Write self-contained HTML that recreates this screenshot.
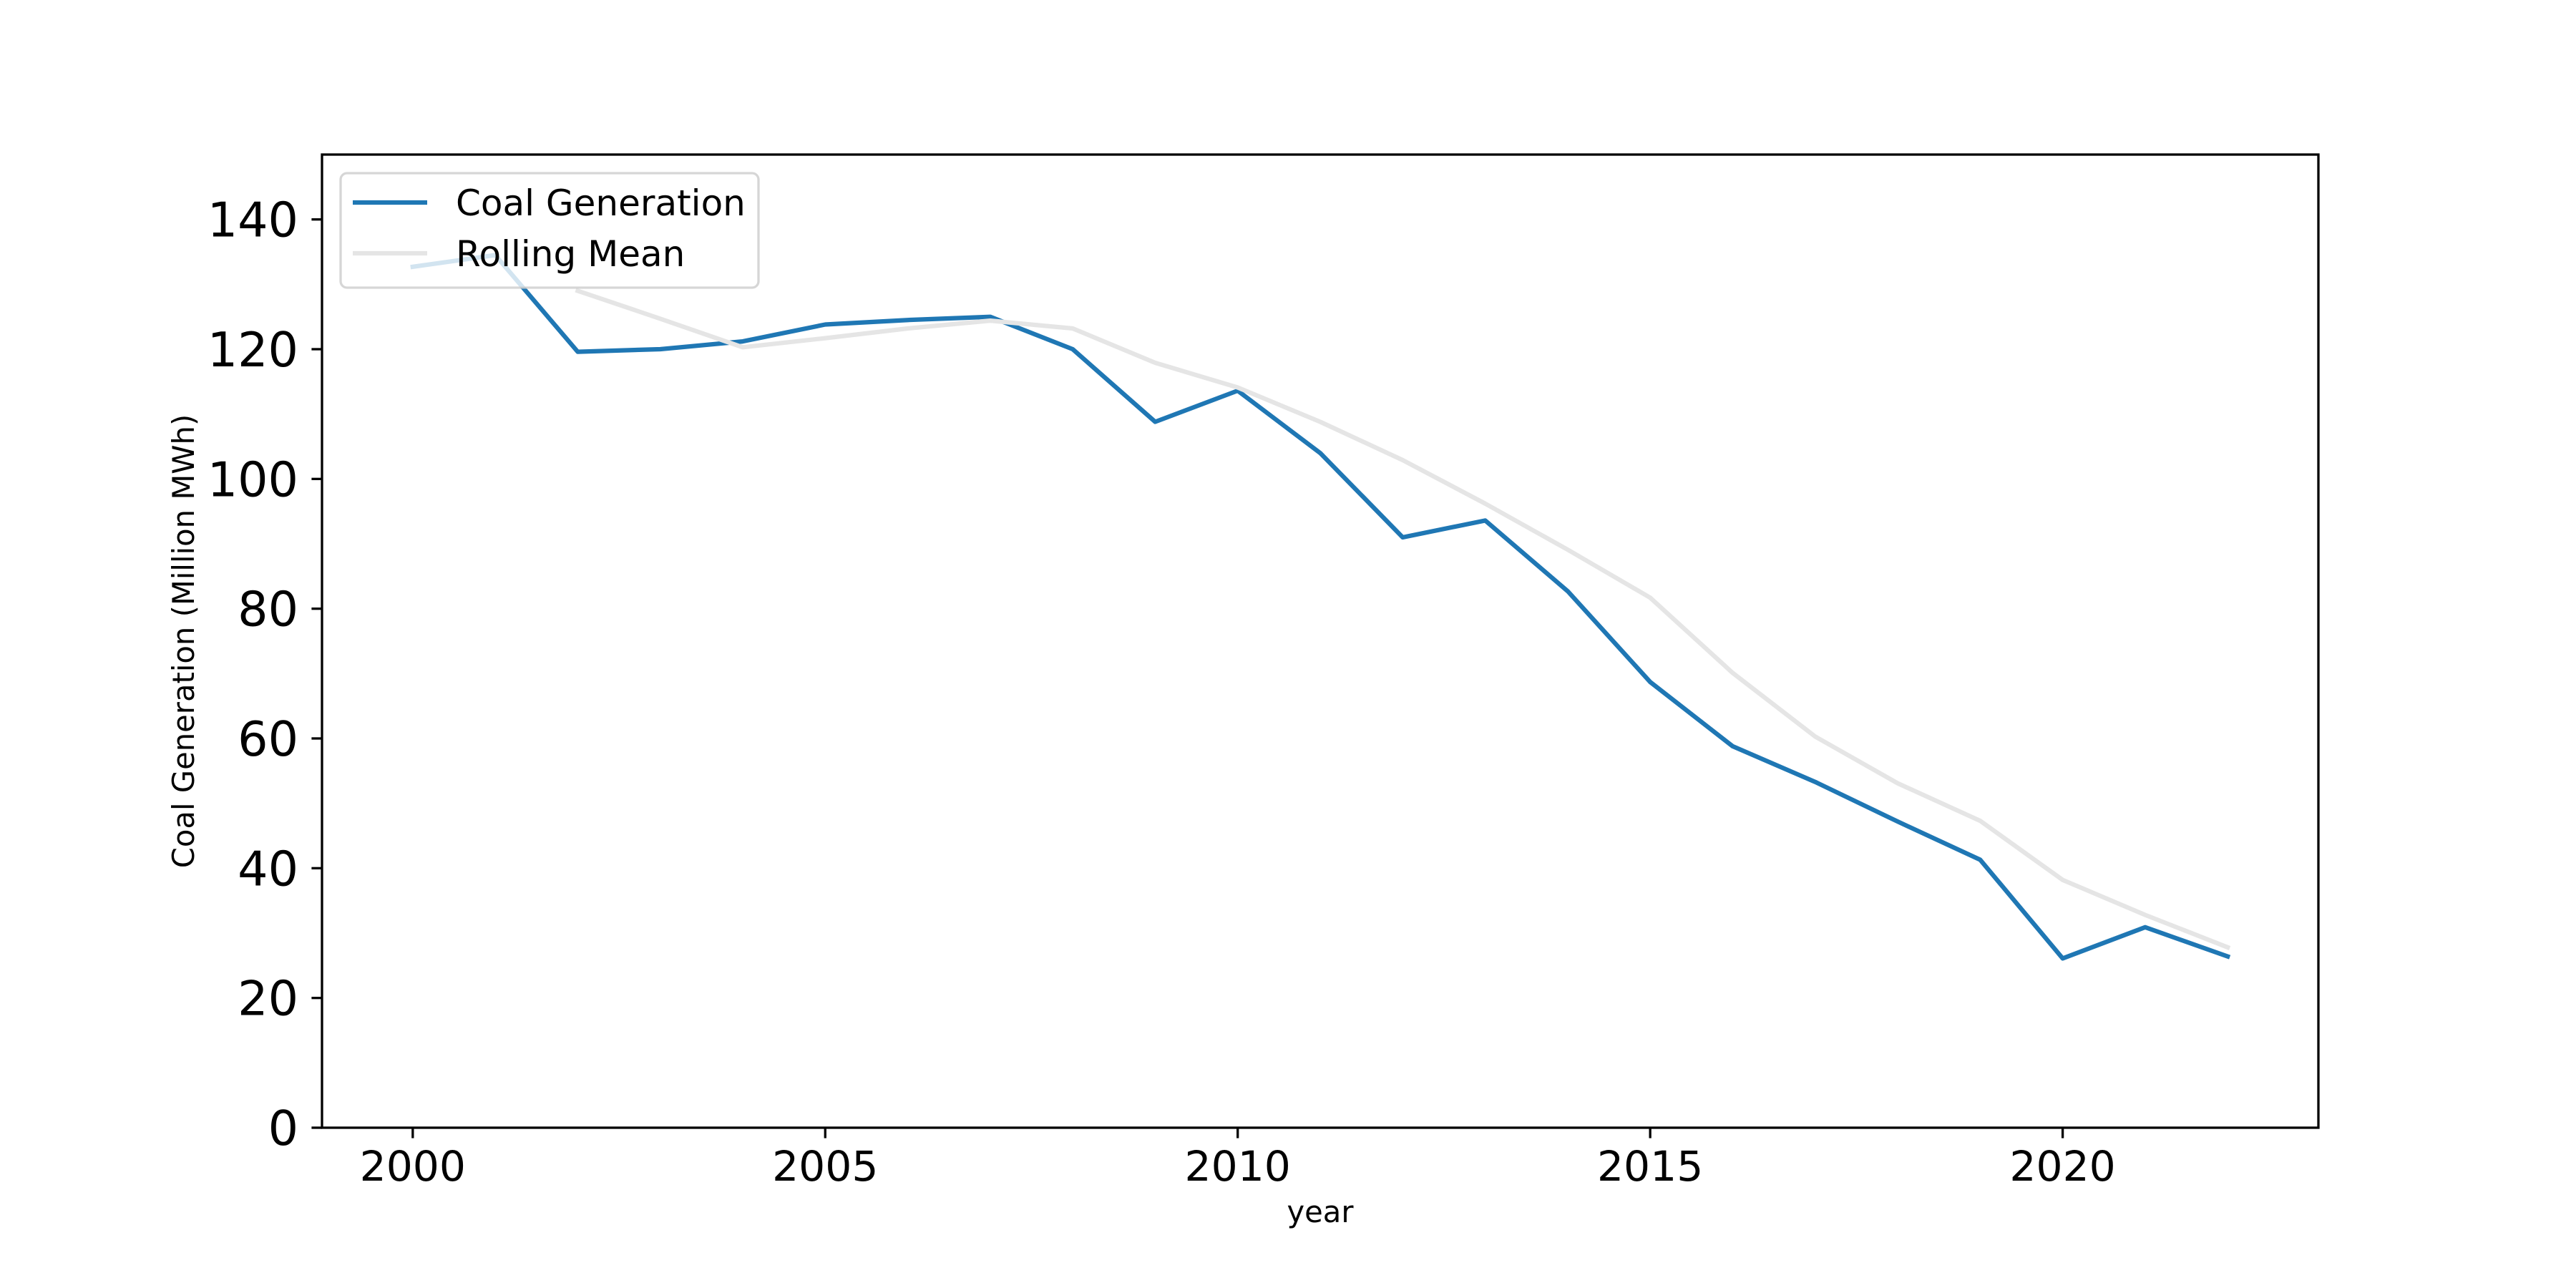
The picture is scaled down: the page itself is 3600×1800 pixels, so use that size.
<!DOCTYPE html>
<html><head><meta charset="utf-8"><style>
html,body{margin:0;padding:0;background:#fff;}
svg{display:block;font-family:"DejaVu Sans","Liberation Sans",sans-serif;}
</style></head><body>
<svg id="chart" width="3600" height="1800" viewBox="0 0 3600 1800" xmlns="http://www.w3.org/2000/svg">
<rect width="3600" height="1800" fill="#fff"/>
<g id="plot"></g>
</svg>
<script>
const years = [2000,2001,2002,2003,2004,2005,2006,2007,2008,2009,2010,2011,2012,2013,2014,2015,2016,2017,2018,2019,2020,2021,2022];
const coalValues = [132.7,134.5,119.6,120,121.2,123.8,124.5,125,120,108.8,113.6,104,91,93.6,82.7,68.7,58.8,53.3,47.2,41.3,26.1,30.9,26.4];
const rollingValues = [null,null,129,124.7,120.3,121.7,123.2,124.4,123.2,117.9,114.1,108.8,102.9,96.2,89.1,81.7,70.1,60.3,53.1,47.3,38.2,32.8,27.8];
const yTicks = [0,20,40,60,80,100,120,140];
const xTicks = [2000,2005,2010,2015,2020];

const L=450,R=3240,T=216,B=1576;
const xMin=1998.9,xMax=2023.1,yMin=0,yMax=150;
const xs=v=>L+(v-xMin)/(xMax-xMin)*(R-L);
const ys=v=>B-(v-yMin)/(yMax-yMin)*(B-T);
const NS="http://www.w3.org/2000/svg";
const g=document.getElementById('plot');
function mk(tag,attrs,parent){const e=document.createElementNS(NS,tag);for(const k in attrs)e.setAttribute(k,attrs[k]);(parent||g).appendChild(e);return e;}

// series
function pathFor(vals){let d='';let pen=false;vals.forEach((v,i)=>{if(v==null){pen=false;return;}d+=(pen?'L':'M')+xs(years[i]).toFixed(1)+','+ys(v).toFixed(1);pen=true;});return d;}
const coal=mk('path',{d:pathFor(coalValues),fill:'none',stroke:'#1f77b4','stroke-width':6.25,'stroke-linejoin':'round','stroke-linecap':'square'});


const roll=mk('path',{d:pathFor(rollingValues),fill:'none',stroke:'#e5e5e5','stroke-width':6.25,'stroke-linejoin':'round','stroke-linecap':'square'});



// axes frame
const frame=mk('rect',{x:L,y:T,width:R-L,height:B-T,fill:'none',stroke:'#000','stroke-width':3.3});



// y ticks
yTicks.forEach(v=>{
  const y=ys(v);
  const t=mk('line',{x1:L-14.6,x2:L,y1:y,y2:y,stroke:'#000','stroke-width':3.3});
  
  
  const tx=mk('text',{x:417,y:y+24,'text-anchor':'end','font-size':66.7,fill:'#000'});
  tx.textContent=v;
  
  
});
// x ticks
xTicks.forEach(v=>{
  const x=xs(v);
  const t=mk('line',{x1:x,x2:x,y1:B,y2:B+14.6,stroke:'#000','stroke-width':3.3});
  
  
  const tx=mk('text',{x:x,y:1650,'text-anchor':'middle','font-size':58.3,fill:'#000'});
  tx.textContent=v;
  
  
});

// legend
const lg=mk('g',{});


mk('rect',{x:476,y:242,width:584,height:160,rx:9,fill:'#fff','fill-opacity':0.8,stroke:'#cccccc','stroke-opacity':0.8,'stroke-width':3.3},lg);
const e1=mk('g',{},lg);


mk('line',{x1:493,x2:597,y1:283,y2:283,stroke:'#1f77b4','stroke-width':6.25},e1);
const t1=mk('text',{x:637,y:301,'font-size':50,fill:'#000'},e1);t1.textContent='Coal Generation';
const e2=mk('g',{},lg);


mk('line',{x1:493,x2:597,y1:354,y2:354,stroke:'#e5e5e5','stroke-width':6.25},e2);
const t2=mk('text',{x:637,y:372,'font-size':50,fill:'#000'},e2);t2.textContent='Rolling Mean';

// axis titles
const xl=mk('text',{x:(L+R)/2,y:1708,'text-anchor':'middle','font-size':41.7,fill:'#000'});
xl.textContent='year';


const yl=mk('text',{x:0,y:0,'text-anchor':'middle','font-size':41.7,fill:'#000',transform:'translate(271,'+((T+B)/2)+') rotate(-90)'});
yl.textContent='Coal Generation (Million MWh)';


</script>
</body></html>
